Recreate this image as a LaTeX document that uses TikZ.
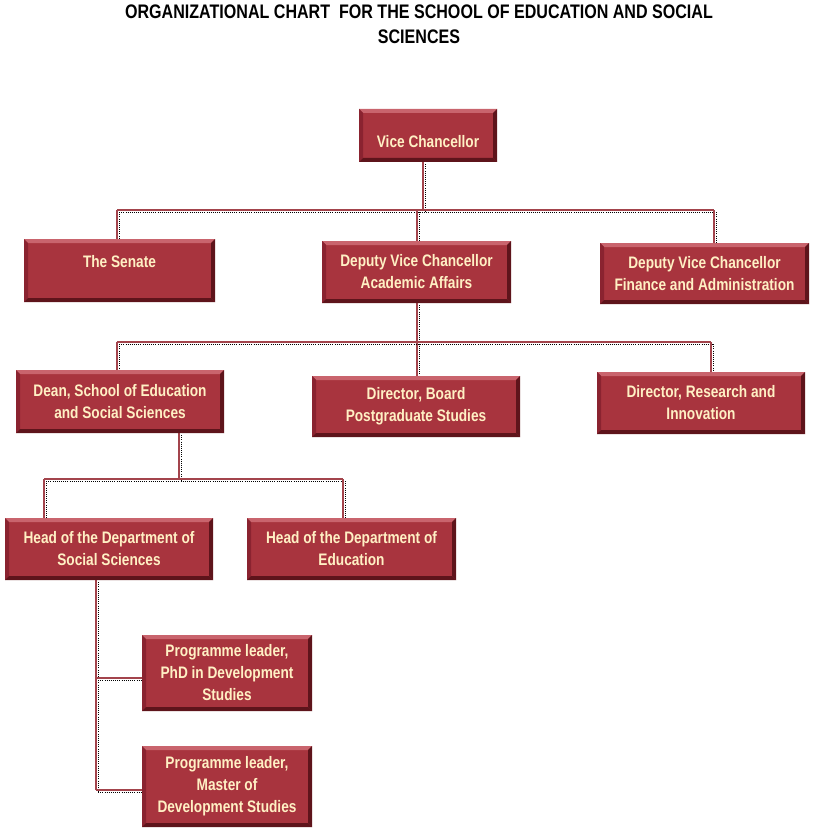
\documentclass[tikz,border=0pt]{standalone}
\usepackage{fontspec}
\setmainfont{Liberation Sans}[FakeStretch=0.82]
\usetikzlibrary{calc}
\definecolor{boxred}{HTML}{A8343E}
\definecolor{bevlight}{HTML}{C9646D}
\definecolor{bevdark}{HTML}{5E141B}
\definecolor{bevmid}{HTML}{8A2330}
\definecolor{boxtext}{HTML}{FFF0C4}
\definecolor{linered}{HTML}{A3444C}
\tikzset{
  orgbox/.style={fill=boxred, text=boxtext, align=center, inner sep=0pt,
    font=\fontsize{12.5pt}{16.5pt}\selectfont\bfseries,
    path picture={
      \coordinate (nw) at (path picture bounding box.north west);
      \coordinate (ne) at (path picture bounding box.north east);
      \coordinate (sw) at (path picture bounding box.south west);
      \coordinate (se) at (path picture bounding box.south east);
      \fill[bevlight] (nw) -- (ne) -- ($(ne)+(-3pt,-3pt)$) -- ($(nw)+(3pt,-3pt)$) -- cycle;
      \fill[bevmid] (nw) -- (sw) -- ($(sw)+(3pt,3pt)$) -- ($(nw)+(3pt,-3pt)$) -- cycle;
      \fill[bevdark] (ne) -- (se) -- ($(se)+(-3pt,3pt)$) -- ($(ne)+(-3pt,-3pt)$) -- cycle;
      \fill[bevdark] (sw) -- (se) -- ($(se)+(-3pt,3pt)$) -- ($(sw)+(3pt,3pt)$) -- cycle;
    }},
  conn/.style={draw=linered, line width=1.4pt,
    preaction={draw=black, densely dotted, line width=0.6pt,
      transform canvas={xshift=1.6pt,yshift=-1.6pt}}},
  titletext/.style={font=\fontsize{14.7pt}{19pt}\selectfont\bfseries, align=center, inner sep=0pt}
}
\begin{document}
\begin{tikzpicture}[x=0.75pt,y=-0.75pt]
\useasboundingbox (0,0) rectangle (815,831);
\node[titletext] (title) at (419,24.5) {ORGANIZATIONAL CHART \ FOR THE SCHOOL OF EDUCATION AND SOCIAL\\SCIENCES};

% junction coordinates
\coordinate (j1) at (423,210);
\coordinate (j1l) at (117,210);
\coordinate (j1r) at (714,210);
\coordinate (j1m) at (417,210);
\coordinate (j2) at (417,342);
\coordinate (j2l) at (117,342);
\coordinate (j2r) at (711,342);
\coordinate (j3) at (179,479);
\coordinate (j3l) at (44,479);
\coordinate (j3r) at (343,479);
\coordinate (j4a) at (96,678);
\coordinate (j4b) at (96,790);

% connectors
\draw[conn] (423,162) -- (j1);
\draw[conn] (j1l) -- (j1r);
\draw[conn] (j1l) -- (117,239);
\draw[conn] (j1m) -- (417,241);
\draw[conn] (j1r) -- (714,243);
\draw[conn] (417,303) -- (j2) -- (417,376);
\draw[conn] (j2l) -- (j2r);
\draw[conn] (j2l) -- (117,370);
\draw[conn] (j2r) -- (711,372);
\draw[conn] (179,433) -- (j3);
\draw[conn] (j3l) -- (j3r);
\draw[conn] (j3l) -- (44,518);
\draw[conn] (j3r) -- (343,518);
\draw[conn] (96,580) -- (j4b);
\draw[conn] (j4a) -- (142,678);
\draw[conn] (j4b) -- (142,790);

% boxes
\node[orgbox, minimum width=103.5pt, minimum height=39.75pt] (vc) at (428,135.5) {\raisebox{-6pt}[9pt][2.5pt]{Vice Chancellor}};
\node[orgbox, minimum width=143.25pt, minimum height=47.25pt] (senate) at (119.5,270.5) {\raisebox{5.25pt}[9pt][2.5pt]{The Senate}};
\node[orgbox, minimum width=141.75pt, minimum height=46.5pt] (dvca) at (416.5,272) {Deputy Vice Chancellor\\Academic Affairs};
\node[orgbox, minimum width=156.75pt, minimum height=45.75pt] (dvcf) at (704.5,273.5) {Deputy Vice Chancellor\\Finance and Administration};
\node[orgbox, minimum width=156pt, minimum height=47.25pt] (dean) at (120,401.5) {Dean, School of Education\\and Social Sciences};
\node[orgbox, minimum width=156pt, minimum height=45.75pt] (dirb) at (416,406.5) {Director, Board\\Postgraduate Studies};
\node[orgbox, minimum width=156pt, minimum height=46.5pt] (dirr) at (701,403) {Director, Research and\\Innovation};
\node[orgbox, minimum width=156pt, minimum height=46.5pt] (hss) at (109,549) {Head of the Department of\\Social Sciences};
\node[orgbox, minimum width=156.75pt, minimum height=46.5pt] (he) at (351.5,549) {Head of the Department of\\Education};
\node[orgbox, minimum width=127.5pt, minimum height=57pt] (phd) at (227,673) {Programme leader,\\PhD in Development\\Studies};
\node[orgbox, minimum width=127.5pt, minimum height=60.75pt] (mds) at (227,786.5) {Programme leader,\\Master of\\Development Studies};
\end{tikzpicture}
\end{document}
